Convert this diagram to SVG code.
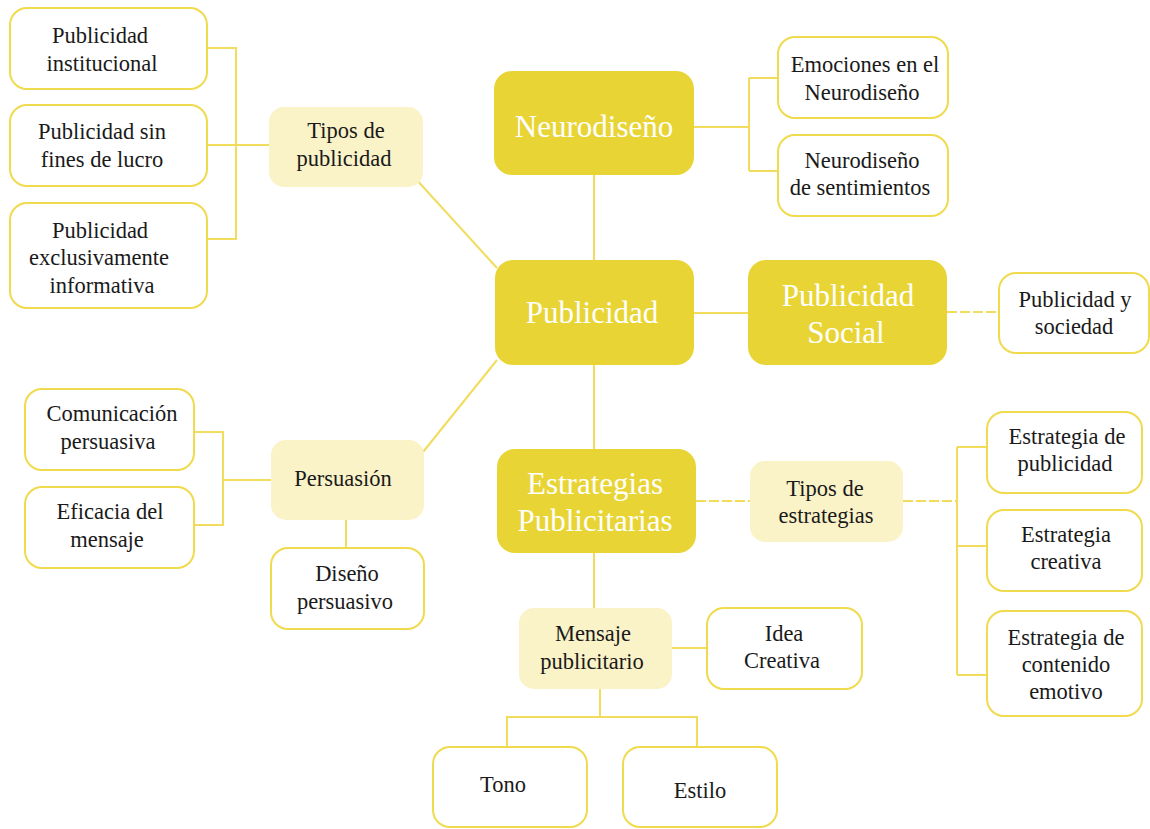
<svg xmlns="http://www.w3.org/2000/svg" width="1150" height="829" viewBox="0 0 1150 829">
<style>
.main rect{fill:#E8D535;}
.main text{fill:#FFFFFF;font-family:"Liberation Serif",serif;font-size:31px;text-anchor:middle;}
.light rect{fill:#FAF3C8;}
.leaf rect{fill:#FFFFFF;stroke:#F0DA4E;stroke-width:2;}
.light text,.leaf text{fill:#1a1a1a;font-family:"Liberation Serif",serif;font-size:22.5px;text-anchor:middle;}
#connectors path{fill:none;stroke:#F1DC5C;stroke-width:2;}
#connectors path.dash{stroke-dasharray:10 3;}
</style>
<rect width="1150" height="829" fill="#FFFFFF"/>
<g id="connectors">
<path d="M207 48H236V239H207M207 145H269"/>
<path d="M415 178L497 268"/>
<path d="M423 452L497 360"/>
<path d="M594 175V260M594 365V449M594 553V608"/>
<path d="M694 127H749M749 78V171M749 78H778M749 171H778"/>
<path d="M694 313H748"/>
<path class="dash" d="M947 312H999"/>
<path d="M194 432H223V525H194M223 480H271"/>
<path d="M346 520V548"/>
<path class="dash" d="M696 501H750M903 501H957"/>
<path d="M957 447V675M957 447H987M957 546H987M957 675H987"/>
<path d="M672 648H707"/>
<path d="M600 689V717M507 747V717H697V747"/>
</g>
<g id="n-neurodiseno" class="main"><rect x="494" y="71" width="200" height="104" rx="18"/><text x="594" y="137">Neurodiseño</text></g>
<g id="n-publicidad" class="main"><rect x="495" y="260" width="199" height="105" rx="18"/><text x="592" y="323">Publicidad</text></g>
<g id="n-publicidad-social" class="main"><rect x="748" y="260" width="199" height="105" rx="18"/><text x="848" y="306">Publicidad</text><text x="846" y="343">Social</text></g>
<g id="n-estrategias" class="main"><rect x="497" y="449" width="199" height="104" rx="18"/><text x="595" y="494">Estrategias</text><text x="595" y="531">Publicitarias</text></g>
<g id="n-tipos-publicidad" class="light"><rect x="269" y="107" width="154" height="80" rx="15"/><text x="346" y="138">Tipos de</text><text x="344" y="166">publicidad</text></g>
<g id="n-persuasion" class="light"><rect x="271" y="440" width="153" height="80" rx="15"/><text x="343" y="486">Persuasión</text></g>
<g id="n-tipos-estrategias" class="light"><rect x="750" y="461" width="153" height="81" rx="15"/><text x="825" y="496">Tipos de</text><text x="826" y="523">estrategias</text></g>
<g id="n-mensaje" class="light"><rect x="519" y="608" width="153" height="81" rx="15"/><text x="593" y="641">Mensaje</text><text x="592" y="669">publicitario</text></g>
<g id="n-institucional" class="leaf"><rect x="10" y="8" width="197" height="81" rx="17"/><text x="100" y="43">Publicidad</text><text x="102" y="71">institucional</text></g>
<g id="n-sin-fines" class="leaf"><rect x="10" y="105" width="197" height="81" rx="17"/><text x="102" y="139">Publicidad sin</text><text x="102" y="167">fines de lucro</text></g>
<g id="n-informativa" class="leaf"><rect x="10" y="203" width="197" height="105" rx="17"/><text x="100" y="238">Publicidad</text><text x="99" y="265">exclusivamente</text><text x="102" y="293">informativa</text></g>
<g id="n-emociones" class="leaf"><rect x="778" y="37" width="170" height="81" rx="17"/><text x="865" y="72">Emociones en el</text><text x="862" y="100">Neurodiseño</text></g>
<g id="n-sentimientos" class="leaf"><rect x="778" y="135" width="170" height="81" rx="17"/><text x="862" y="168">Neurodiseño</text><text x="860" y="195">de sentimientos</text></g>
<g id="n-sociedad" class="leaf"><rect x="999" y="273" width="150" height="80" rx="17"/><text x="1075" y="307">Publicidad y</text><text x="1074" y="334">sociedad</text></g>
<g id="n-comunicacion" class="leaf"><rect x="25" y="389" width="169" height="81" rx="17"/><text x="112" y="421">Comunicación</text><text x="108" y="449">persuasiva</text></g>
<g id="n-eficacia" class="leaf"><rect x="25" y="487" width="169" height="81" rx="17"/><text x="110" y="519">Eficacia del</text><text x="107" y="547">mensaje</text></g>
<g id="n-diseno-persuasivo" class="leaf"><rect x="271" y="548" width="153" height="81" rx="17"/><text x="347" y="581">Diseño</text><text x="345" y="609">persuasivo</text></g>
<g id="n-estrategia-publicidad" class="leaf"><rect x="987" y="412" width="155" height="81" rx="17"/><text x="1067" y="444">Estrategia de</text><text x="1065" y="471">publicidad</text></g>
<g id="n-estrategia-creativa" class="leaf"><rect x="987" y="510" width="155" height="81" rx="17"/><text x="1066" y="542">Estrategia</text><text x="1066" y="569">creativa</text></g>
<g id="n-contenido-emotivo" class="leaf"><rect x="987" y="611" width="155" height="105" rx="17"/><text x="1066" y="645">Estrategia de</text><text x="1066" y="672">contenido</text><text x="1066" y="699">emotivo</text></g>
<g id="n-idea" class="leaf"><rect x="707" y="608" width="155" height="81" rx="17"/><text x="784" y="641">Idea</text><text x="782" y="668">Creativa</text></g>
<g id="n-tono" class="leaf"><rect x="433" y="747" width="154" height="80" rx="17"/><text x="503" y="792">Tono</text></g>
<g id="n-estilo" class="leaf"><rect x="623" y="747" width="154" height="80" rx="17"/><text x="700" y="798">Estilo</text></g>
</svg>
